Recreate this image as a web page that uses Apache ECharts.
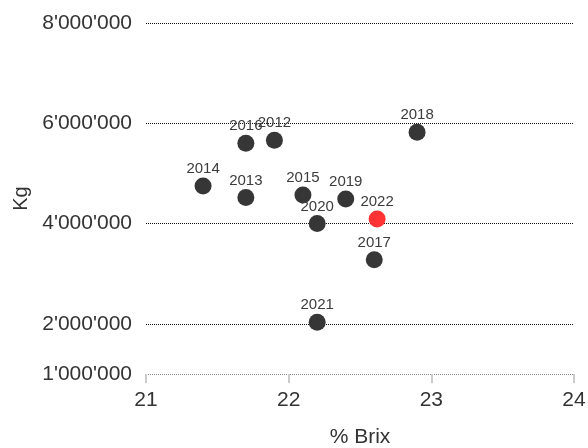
<!DOCTYPE html>
<html>
<head>
<meta charset="utf-8">
<script src="https://cdn.jsdelivr.net/npm/echarts@6/dist/echarts.min.js"></script>
<style>html,body{margin:0;padding:0;background:#fff}#c{width:588px;height:448px}</style>
</head>
<body>
<div id="c"></div>
<script>
const years = ['2012','2013','2014','2015','2016','2017','2018','2019','2020','2021','2022'];
const brix  = [21.90, 21.70, 21.40, 22.10, 21.70, 22.60, 22.90, 22.40, 22.20, 22.20, 22.62];
const kg    = [5660000, 4520000, 4750000, 4570000, 5600000, 3280000, 5820000, 4490000, 4000000, 2030000, 4090000];
const yTickLabels = [1000000, 2000000, 4000000, 6000000, 8000000];
const highlightYear = '2022';

function fmt(v){
  return String(Math.round(v)).replace(/\B(?=(\d{3})+(?!\d))/g, "'");
}

const chart = echarts.init(document.getElementById('c'), null, {renderer:'canvas'});
const data = years.map((y,i)=>({
  value:[brix[i], kg[i]],
  name:y,
  itemStyle:{color: y===highlightYear ? '#ff3333' : '#363636'}
}));

chart.setOption({
  animation:false,
  textStyle:{fontFamily:'Liberation Sans, Arial, sans-serif'},
  grid:{left:146,right:14,top:23,bottom:74,containLabel:false,outerBoundsMode:'none'},
  xAxis:{
    type:'value',min:21,max:24,interval:1,
    name:'% Brix',nameLocation:'middle',nameGap:53,
    nameTextStyle:{fontSize:21,color:'#333'},
    axisLine:{show:false},
    axisTick:{show:true,length:9,lineStyle:{color:'#cccccc',width:2}},
    axisLabel:{fontSize:21,color:'#333',margin:16},
    splitLine:{show:false}
  },
  yAxis:{
    type:'value',min:1000000,max:8000000,interval:1000000,
    name:'Kg',nameLocation:'middle',nameGap:115,
    nameTextStyle:{fontSize:20,color:'#333'},
    axisLine:{show:false},axisTick:{show:false},
    axisLabel:{fontSize:21,color:'#333',margin:14,
      formatter:v=> yTickLabels.indexOf(v)>=0 ? fmt(v) : ''},
    splitLine:{show:true,lineStyle:{type:[1,1],width:1,
      color:['#888','#111','rgba(0,0,0,0)','#111','rgba(0,0,0,0)','#111','rgba(0,0,0,0)','#111']}}
  },
  series:[{
    type:'scatter',
    symbolSize:17,
    data:data,
    label:{show:true,position:'top',distance:1,formatter:p=>p.name,fontSize:15,color:'#3c3c3c'},
    itemStyle:{opacity:1}
  }]
});
</script>
</body>
</html>
